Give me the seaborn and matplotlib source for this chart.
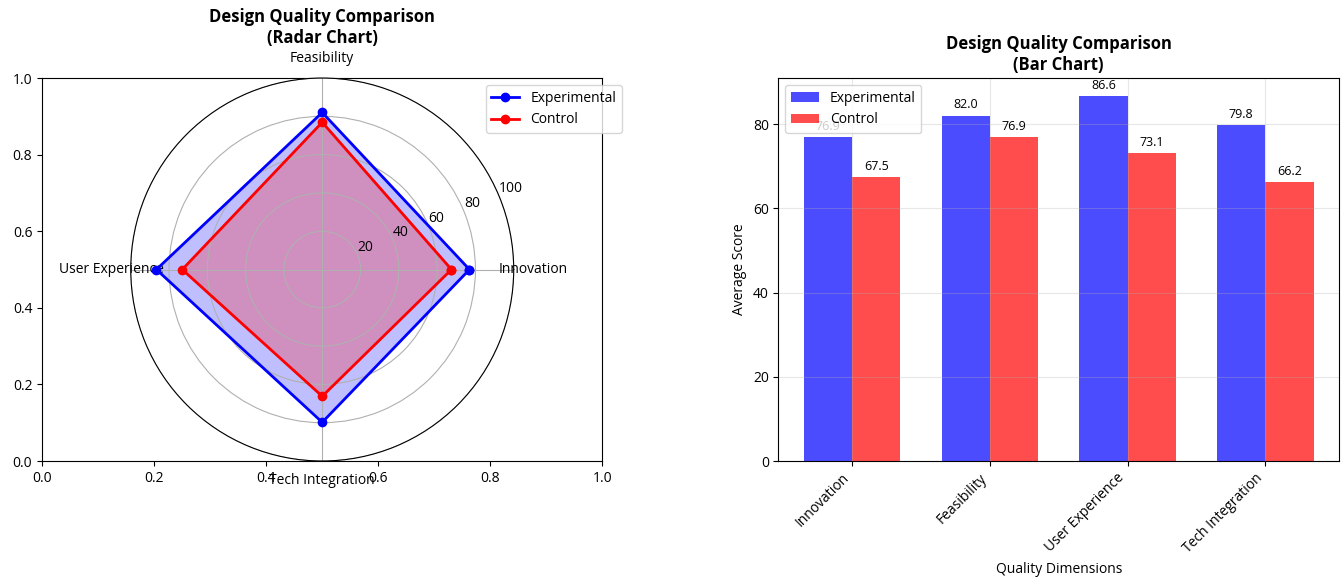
import numpy as np
import pandas as pd
import matplotlib
matplotlib.use("Agg")
import matplotlib.pyplot as plt
import seaborn as sns

plt.rcParams['font.family'] = ['Open Sans', 'Noto Sans', 'DejaVu Sans']

categories = ['Innovation', 'Feasibility', 'User Experience', 'Tech Integration']
experimental = [76.9, 82.0, 86.6, 79.8]
control = [67.5, 76.9, 73.1, 66.2]
groups = ['Experimental', 'Control']
radial_ticks = [20, 40, 60, 80, 100]

DPI = 100
fig, (ax1, ax2) = plt.subplots(1, 2, figsize=(1341 / DPI, 578 / DPI), dpi=DPI)
fig.subplots_adjust(left=0.0313, right=0.9985, bottom=0.2024, top=0.865, wspace=0.314)

# ---------- Radar chart (polar axes laid over the first axes) ----------
pax = fig.add_subplot(1, 2, 1, projection='polar')
N = len(categories)
angles = np.linspace(0, 2 * np.pi, N, endpoint=False).tolist()
angles_c = angles + angles[:1]
exp_c = experimental + experimental[:1]
ctl_c = control + control[:1]

pax.plot(angles_c, exp_c, 'o-', color='blue', linewidth=2, markersize=6, label='Experimental')
pax.fill(angles_c, exp_c, color='blue', alpha=0.25)
pax.plot(angles_c, ctl_c, 'o-', color='red', linewidth=2, markersize=6, label='Control')
pax.fill(angles_c, ctl_c, color='red', alpha=0.25)
pax.set_xticks(angles)
pax.set_xticklabels(categories)
pax.set_ylim(0, 100)
pax.set_yticks(radial_ticks)
pax.set_yticklabels([str(t) for t in radial_ticks])
pax.grid(True)
pax.set_title('Design Quality Comparison\n(Radar Chart)', fontweight='bold', fontsize=12)
pax.legend(loc='upper right', bbox_to_anchor=(1.3, 1.0))

# ---------- Bar chart ----------
df = pd.DataFrame({
    'Dimension': categories * 2,
    'Group': [groups[0]] * N + [groups[1]] * N,
    'Score': experimental + control,
})
sns.barplot(data=df, x='Dimension', y='Score', hue='Group',
            palette={'Experimental': 'blue', 'Control': 'red'},
            alpha=0.7, saturation=1, width=0.7, linewidth=0, ax=ax2)
w = 0.35
for i, (e, c) in enumerate(zip(experimental, control)):
    ax2.text(i - w / 2, e + 1, f'{e:.1f}', ha='center', va='bottom', fontsize=9)
    ax2.text(i + w / 2, c + 1, f'{c:.1f}', ha='center', va='bottom', fontsize=9)
ax2.set_xlim(-0.535, 3.535)
ax2.set_ylim(0, 90.93)
ax2.set_yticks([0, 20, 40, 60, 80])
ax2.set_xticks(range(N))
ax2.set_xticklabels(categories, rotation=45, ha='right')
ax2.set_xlabel('Quality Dimensions')
ax2.set_ylabel('Average Score')
ax2.set_title('Design Quality Comparison\n(Bar Chart)', fontweight='bold', fontsize=12)
ax2.grid(True, alpha=0.3)
ax2.legend(loc='upper left')

fig.savefig('out.png', dpi=DPI)
